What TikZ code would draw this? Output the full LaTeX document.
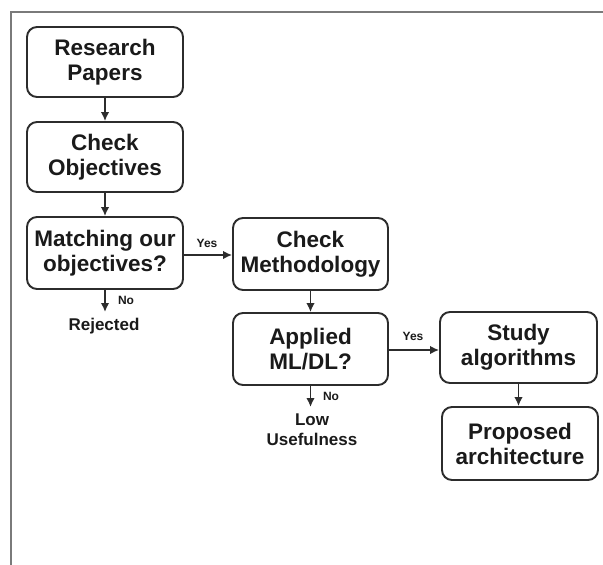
\documentclass[tikz,border=0pt]{standalone}
\usepackage{fontspec}
\setmainfont{Liberation Sans}
\usetikzlibrary{arrows.meta}
\definecolor{ink}{HTML}{1A1A1A}
\definecolor{edge}{HTML}{2C2C2C}
\definecolor{framec}{HTML}{7A7A7A}
\begin{document}
\begin{tikzpicture}[x=1pt,y=1pt,
  box/.style={draw=edge, line width=1.9pt, rounded corners=10pt, inner sep=0pt,
    align=center, text=ink, font=\fontsize{22.5}{25}\selectfont\bfseries},
  flow/.style={draw=edge, line width=1.6pt, -{Latex[length=9pt,width=8.5pt]}},
  small/.style={inner sep=0pt, text=ink, font=\fontsize{12}{13}\selectfont\bfseries},
  outcome/.style={inner sep=0pt, text=ink, align=center, font=\fontsize{17}{20}\selectfont\bfseries}]
\useasboundingbox (0,0) rectangle (603,-565);
\draw[framec, line width=2.2pt] (11,-566) -- (11,-12) -- (604,-12);

\node[box, minimum width=156pt, minimum height=70pt] (rp) at (105,-62) {Research\\Papers};
\node[box, minimum width=156pt, minimum height=70pt] (co) at (105,-157) {Check\\Objectives};
\node[box, minimum width=156pt, minimum height=72pt] (mo) at (105,-253) {Matching our\\objectives?};
\node[box, minimum width=155pt, minimum height=72pt] (cm) at (310.5,-254) {Check\\Methodology};
\node[box, minimum width=155pt, minimum height=72pt] (ap) at (310.5,-349) {Applied\\ML/DL?};
\node[box, minimum width=157pt, minimum height=71pt] (sa) at (518.5,-347.5) {Study\\algorithms};
\node[box, minimum width=156pt, minimum height=73pt] (pa) at (520,-443.5) {Proposed\\architecture};

\draw[flow] (rp) -- (co);
\draw[flow] (co) -- (mo);
\draw[flow] (cm.south) -- (cm.south |- ap.north);
\draw[flow] (sa.south) -- (sa.south |- pa.north);
\draw[flow] (mo.east |- 0,-255) -- (cm.west |- 0,-255);
\draw[flow] (ap.east |- 0,-350) -- (sa.west |- 0,-350);

\node[small] (y1) at (207,-243) {Yes};
\node[small] (y2) at (413,-336) {Yes};

\coordinate (rj) at (105,-312);
\coordinate (lu) at (310.5,-407);
\draw[flow] (mo.south) -- (rj);
\draw[flow] (ap.south) -- (lu);
\node[small] (n1) at (126,-300) {No};
\node[small] (n2) at (331,-396) {No};
\node[outcome, anchor=base] (rej) at (104,-330) {Rejected};
\node[outcome] (low) at (312,-430) {Low\\Usefulness};
\end{tikzpicture}
\end{document}
